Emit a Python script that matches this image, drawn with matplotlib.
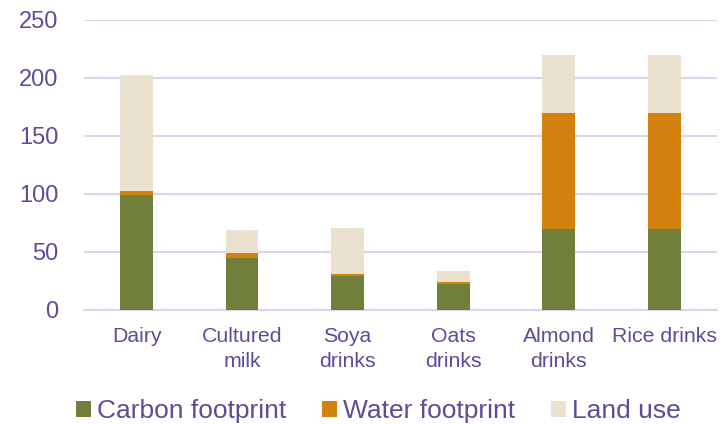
import matplotlib
matplotlib.use("Agg")
import matplotlib.pyplot as plt
import numpy as np

categories = ["Dairy", "Cultured\nmilk", "Soya\ndrinks", "Oats\ndrinks", "Almond\ndrinks", "Rice drinks"]
carbon = [99, 44.5, 29.5, 22.5, 70, 70]
water = [3.5, 4.5, 1.5, 1.2, 100, 100]
land = [100, 20, 39.5, 10, 50, 50]
yticks = [0, 50, 100, 150, 200, 250]

plt.rcParams['font.family'] = ['Liberation Sans', 'DejaVu Sans']
txt = "#5B4E96"
c_green = "#70803A"
c_orange = "#D4820F"
c_land = "#EAE1CF"
grid_c = "#DAD6EC"

fig = plt.figure(figsize=(7.28, 4.24), dpi=100)
ax = fig.add_axes([0.115, 0.269, 0.87, 0.684])

x = np.arange(len(categories))
w = 0.31
carbon_a = np.array(carbon)
water_a = np.array(water)
land_a = np.array(land)
ax.bar(x, carbon_a, w, color=c_green, label="Carbon footprint", zorder=3)
ax.bar(x, water_a, w, bottom=carbon_a, color=c_orange, label="Water footprint", zorder=3)
ax.bar(x, land_a, w, bottom=carbon_a + water_a, color=c_land, label="Land use", zorder=3)

ax.set_ylim(0, 250)
ax.set_xlim(-0.5, len(categories) - 0.5)
ax.set_yticks(yticks)
ax.yaxis.grid(True, color=grid_c, linewidth=1.5, zorder=0)
ax.set_axisbelow(True)
for s in ["top", "right", "left"]:
    ax.spines[s].set_visible(False)
ax.spines["bottom"].set_color(grid_c)
ax.spines["bottom"].set_linewidth(1.5)
ax.tick_params(axis="both", length=0, colors=txt)
ax.tick_params(axis="y", pad=18, labelsize=17)
ax.tick_params(axis="x", pad=12, labelsize=15.3)
ax.set_xticks(x)
ax.set_xticklabels(categories, linespacing=1.4)

leg = fig.legend(loc="center", ncol=3, bbox_to_anchor=(0.52, 13 / 424), frameon=False,
                 fontsize=19, handlelength=0.55, handleheight=0.55, handletextpad=0.25,
                 columnspacing=1.35, borderaxespad=0, borderpad=0)
for t in leg.get_texts():
    t.set_color(txt)

fig.savefig("out.png", dpi=100)
